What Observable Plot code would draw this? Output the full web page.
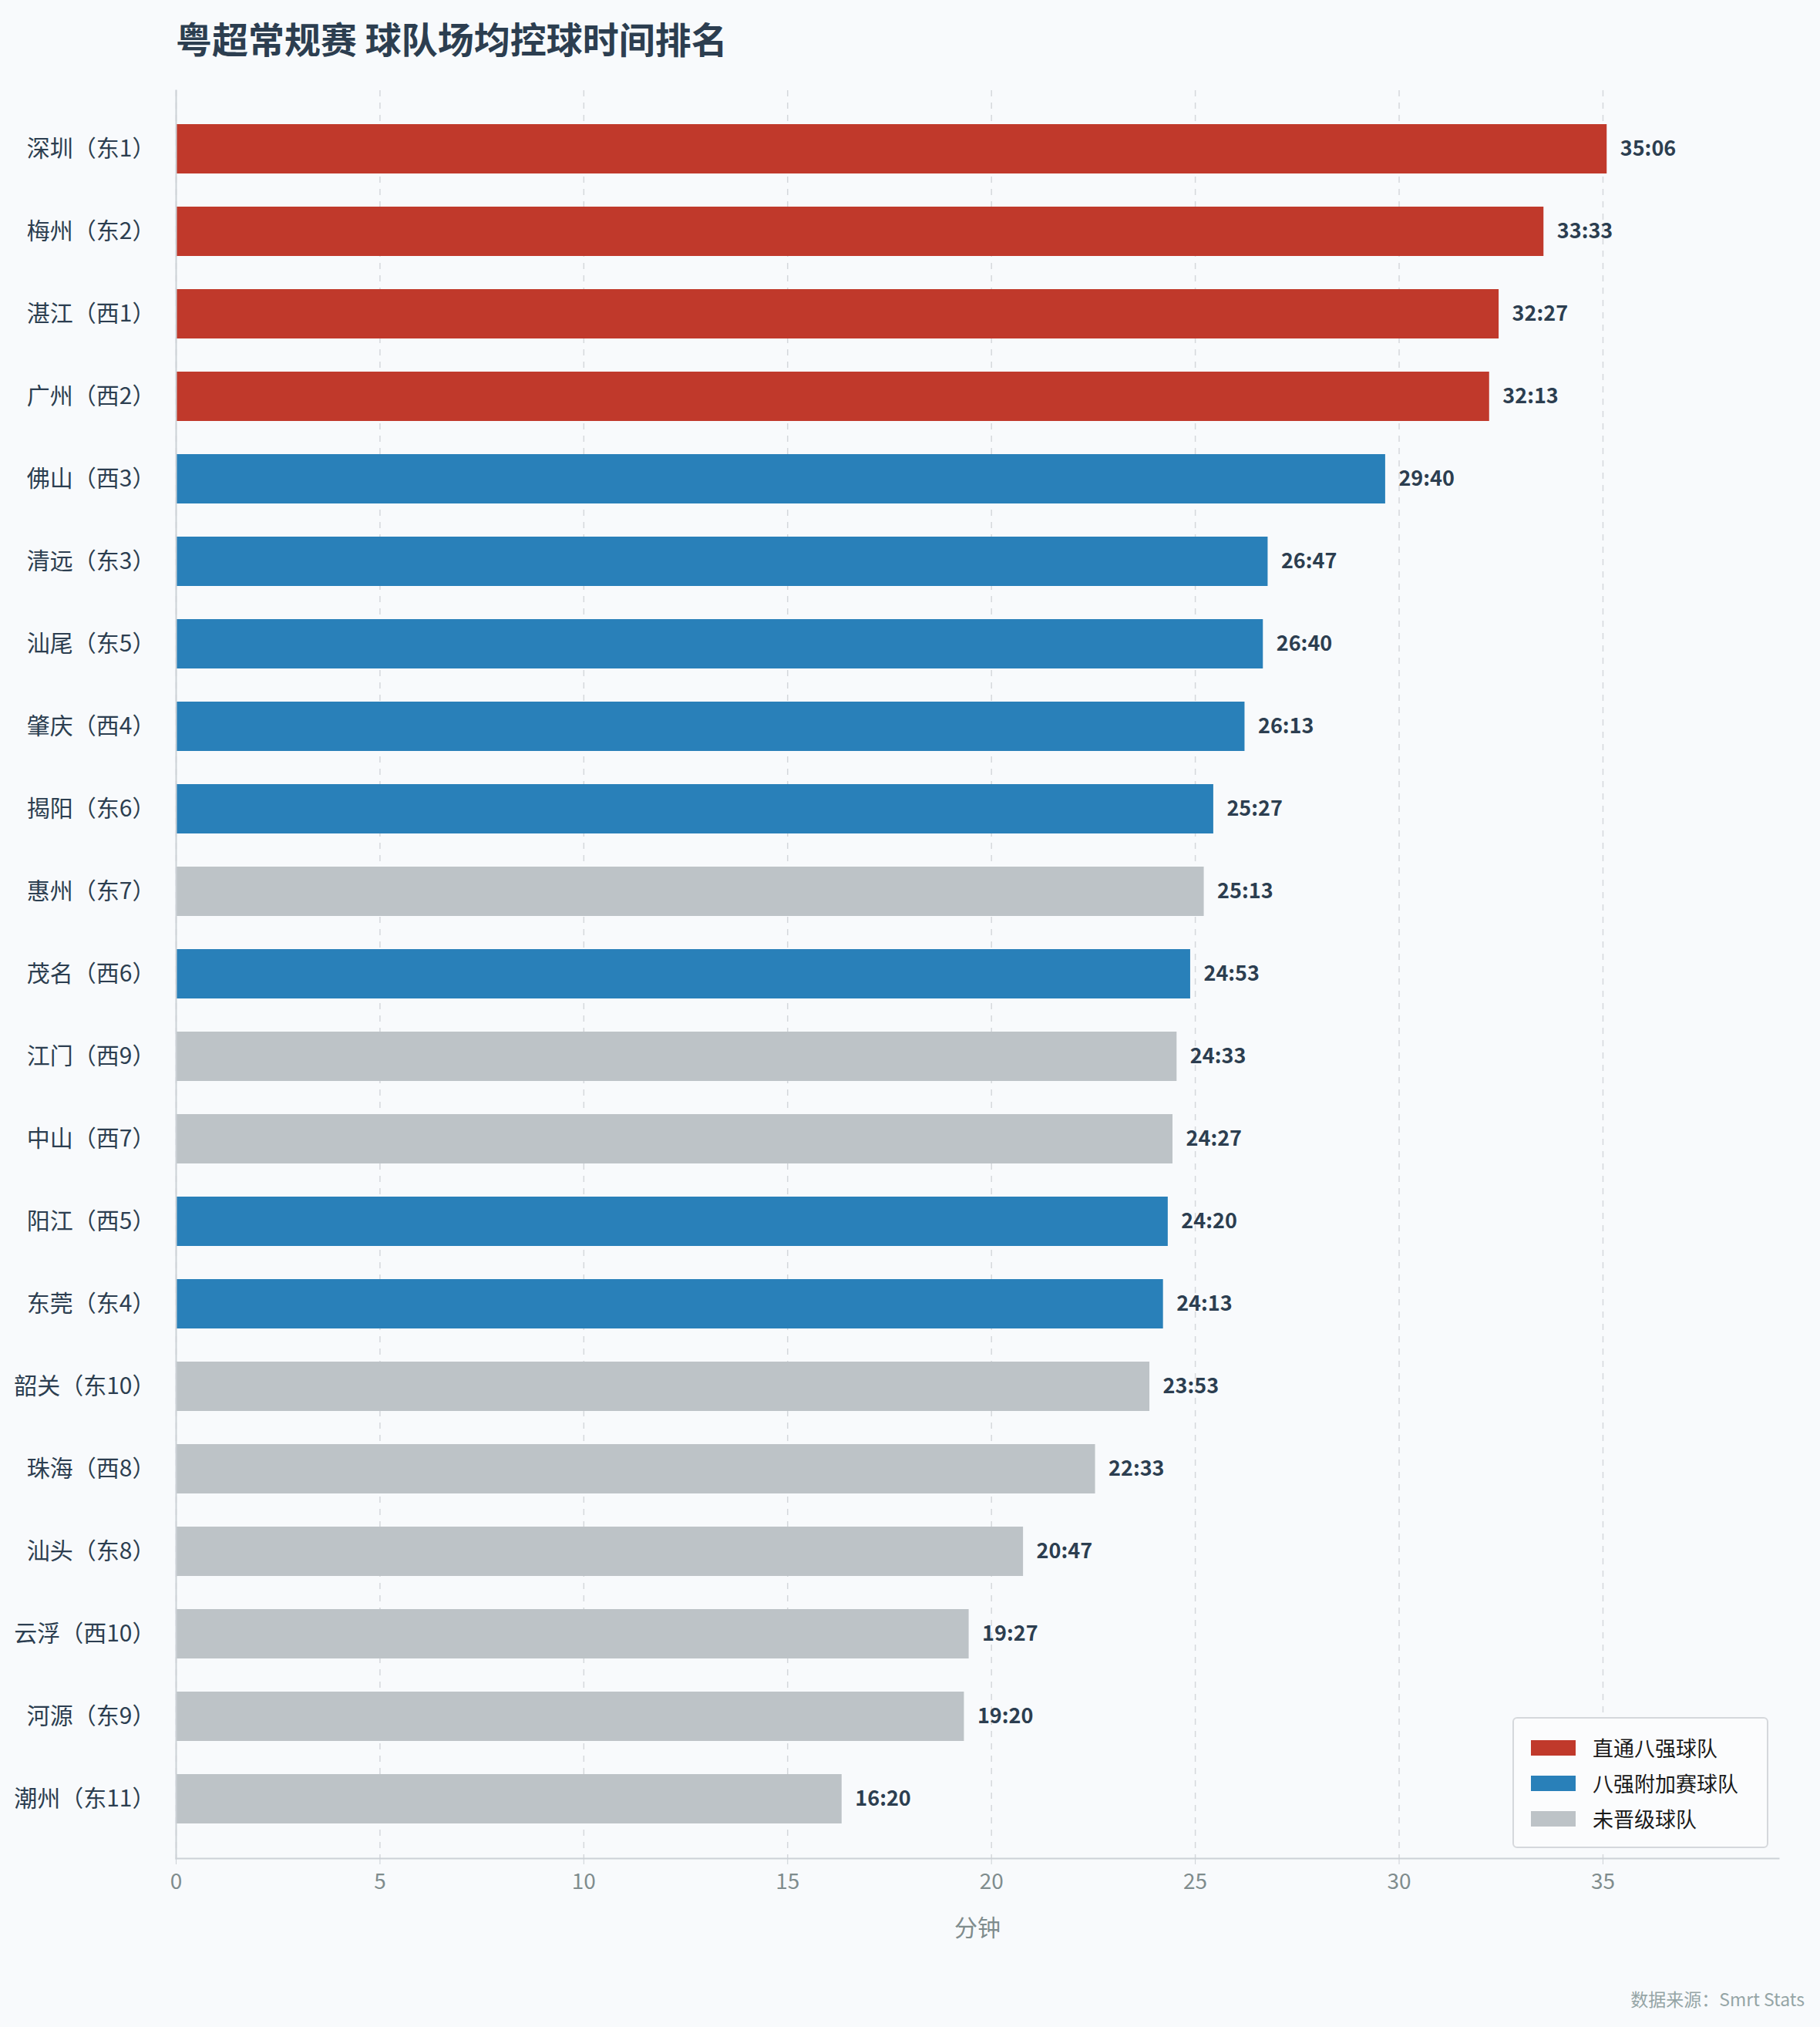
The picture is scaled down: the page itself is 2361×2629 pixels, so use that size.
<!DOCTYPE html>
<html><head><meta charset="utf-8">
<script src="https://cdn.jsdelivr.net/npm/d3@7"></script>
<script src="https://cdn.jsdelivr.net/npm/@observablehq/plot@0.6"></script>
<style>
body{margin:0;background:#f8fafc;font-family:"Noto Sans CJK SC","Noto Sans",sans-serif;}
#wrap{position:relative;width:2361px;height:2629px;}
#title{position:absolute;left:228px;top:14px;font-size:47px;font-weight:700;color:#2c3e50;}
#src{position:absolute;right:20px;top:2575px;font-size:23px;color:#95a5a6;}
#legend{position:absolute;left:1962px;top:2227px;width:328px;height:166px;border:2px solid #d5d8dc;border-radius:6px;background:#fbfcfd;font-size:27px;color:#1a1a1a;}
.li{position:absolute;left:22px;display:flex;align-items:center;}
.sw{width:58px;height:20px;margin-right:22px;}
</style></head><body>
<div id="wrap">
<div id="title">粤超常规赛 球队场均控球时间排名</div>
<div id="chart"></div>
<div id="legend"></div>
<div id="src">数据来源：Smrt Stats</div>
</div>
<script>
const teams = ["深圳（东1）","梅州（东2）","湛江（西1）","广州（西2）","佛山（西3）","清远（东3）","汕尾（东5）","肇庆（西4）","揭阳（东6）","惠州（东7）","茂名（西6）","江门（西9）","中山（西7）","阳江（西5）","东莞（东4）","韶关（东10）","珠海（西8）","汕头（东8）","云浮（西10）","河源（东9）","潮州（东11）"];
const times = ["35:06","33:33","32:27","32:13","29:40","26:47","26:40","26:13","25:27","25:13","24:53","24:33","24:27","24:20","24:13","23:53","22:33","20:47","19:27","19:20","16:20"];
const groups = ["直通八强球队","直通八强球队","直通八强球队","直通八强球队","八强附加赛球队","八强附加赛球队","八强附加赛球队","八强附加赛球队","八强附加赛球队","未晋级球队","八强附加赛球队","未晋级球队","未晋级球队","八强附加赛球队","八强附加赛球队","未晋级球队","未晋级球队","未晋级球队","未晋级球队","未晋级球队","未晋级球队"];
const groupNames = ["直通八强球队","八强附加赛球队","未晋级球队"];
const groupColors = ["#c0392b","#2980b9","#bdc3c7"];
const xTicks = [0,5,10,15,20,25,30,35];

const data = teams.map((t,i)=>{const [m,s]=times[i].split(":").map(Number);return {team:t,label:times[i],value:m+s/60,group:groups[i]};});
const maxV = d3.max(data,d=>d.value);

const chart = Plot.plot({
  width:2361, height:2629,
  marginLeft:228, marginRight:54, marginTop:117, marginBottom:219,
  style:{background:"transparent",fontFamily:"'Noto Sans CJK SC',sans-serif"},
  x:{domain:[0,maxV*1.12]},
  y:{domain:teams, padding:0.4},
  color:{domain:groupNames, range:groupColors},
  marks:[
    Plot.gridX(xTicks,{stroke:"#d5d8dc",strokeOpacity:1,strokeDasharray:"8,8",strokeWidth:1.5}),
    Plot.barX(data,{x:"value",y:"team",fill:"group"}),
    Plot.text(data,{x:"value",y:"team",text:"label",textAnchor:"start",dx:17,fontSize:27,fontWeight:700,fill:"#2c3e50"}),
    Plot.frame({anchor:"left",stroke:"#ccd1d6",strokeWidth:2}),
    Plot.frame({anchor:"bottom",stroke:"#ccd1d6",strokeWidth:2}),
    Plot.axisY({tickSize:0,tickPadding:27,fontSize:30,color:"#2c3e50",label:null}),
    Plot.axisX({ticks:xTicks,tickSize:8,tickPadding:12,fontSize:28,color:"#7f8c8d",stroke:"#ccd1d6",label:null}),
    Plot.text(["分钟"],{frameAnchor:"bottom",dy:100,fontSize:30,fill:"#7f8c8d"})
  ]
});
chart.querySelectorAll("g[aria-label='y-axis tick label'] text, g[aria-label='y-axis tick label']").forEach(e=>e.setAttribute("fill","#2c3e50"));
document.getElementById("chart").appendChild(chart);

const lg=document.getElementById("legend");
groupNames.forEach((g,i)=>{
  const d=document.createElement("div");d.className="li";d.style.top=(18+i*46)+"px";
  d.innerHTML=`<span class="sw" style="background:${groupColors[i]}"></span>${g}`;
  lg.appendChild(d);
});
</script>
</body></html>
